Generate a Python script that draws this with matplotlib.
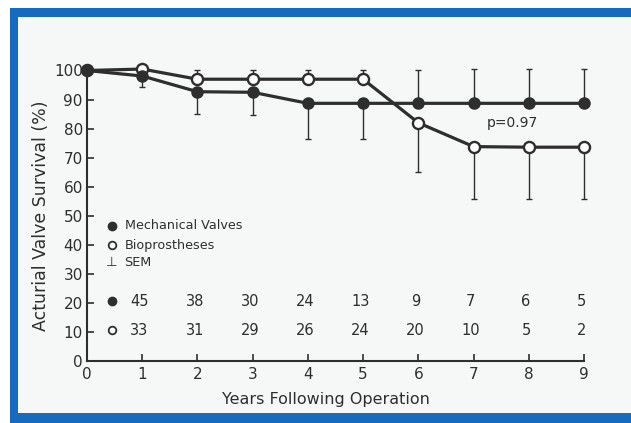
import numpy as np
import matplotlib.pyplot as plt
from matplotlib.patches import Rectangle

years = [0, 1, 2, 3, 4, 5, 6, 7, 8, 9]

# mechanical valves (filled)
mech = [100, 98.1, 92.7, 92.5, 88.7, 88.7, 88.7, 88.7, 88.7, 88.7]
mech_lo = [0, 3.9, 7.8, 7.8, 12.2, 12.2, 0, 0, 0, 0]
mech_hi = [0, 0, 0, 0, 0, 0, 11.6, 11.8, 11.8, 11.8]

# bioprostheses (open)
bio = [100, 100.5, 97.0, 97.0, 97.0, 97.0, 82.0, 73.8, 73.6, 73.6]
bio_lo = [0, 0, 0, 0, 0, 0, 16.8, 18.1, 17.9, 17.9]
bio_hi = [0, 0, 3.3, 3.1, 3.2, 3.3, 0, 0, 0, 0]

risk_years = [1, 2, 3, 4, 5, 6, 7, 8, 9]
mech_n = [45, 38, 30, 24, 13, 9, 7, 6, 5]
bio_n = [33, 31, 29, 26, 24, 20, 10, 5, 2]

ink = '#2e2e2e'
blue = '#176bbf'

fig = plt.figure(figsize=(6.31, 4.23), dpi=100)
fig.patch.set_facecolor('white')

# scanned page background and blue frame
fig.patches.append(Rectangle((0.016, 0.024), 0.984, 0.955, transform=fig.transFigure,
                             facecolor='#f6f8f8', edgecolor='none', zorder=-2))
fig.patches.append(Rectangle((0.016, 0.960), 0.984, 0.021, transform=fig.transFigure,
                             facecolor=blue, edgecolor='none', zorder=-1))
fig.patches.append(Rectangle((0.016, 0.0), 0.012, 0.981, transform=fig.transFigure,
                             facecolor=blue, edgecolor='none', zorder=-1))
fig.patches.append(Rectangle((0.016, 0.0), 0.984, 0.024, transform=fig.transFigure,
                             facecolor=blue, edgecolor='none', zorder=-1))

ax = fig.add_axes([87 / 631, 1 - 361 / 423, (584 - 87) / 631, (361 - 70.5) / 423])
ax.set_facecolor('none')

ax.errorbar(years, mech, yerr=[mech_lo, mech_hi], fmt='none', ecolor=ink,
            elinewidth=1.0, capsize=2.5, capthick=1.0, clip_on=False, zorder=2)
ax.errorbar(years, bio, yerr=[bio_lo, bio_hi], fmt='none', ecolor=ink,
            elinewidth=1.0, capsize=2.5, capthick=1.0, clip_on=False, zorder=2)

ax.plot(years, bio, color=ink, lw=2.3, marker='o', ms=8, mfc='white',
        mec=ink, mew=1.7, clip_on=False, zorder=3)
ax.plot(years, mech, color=ink, lw=2.3, marker='o', ms=8, mfc=ink,
        mec=ink, clip_on=False, zorder=4)

ax.set_xlim(0, 9)
ax.set_ylim(0, 100)
ax.set_xticks(range(0, 10))
ax.set_yticks(range(0, 101, 10))
ax.tick_params(direction='in', length=5, width=1.2, colors=ink, labelsize=11,
               labelcolor=ink)
ax.tick_params(axis='x', pad=4)
ax.tick_params(axis='y', pad=3)
for s in ['top', 'right']:
    ax.spines[s].set_visible(False)
for s in ['left', 'bottom']:
    ax.spines[s].set_color(ink)
    ax.spines[s].set_linewidth(1.5)

ax.set_xlabel('Years Following Operation', fontsize=11.5, color=ink, labelpad=6)
ax.xaxis.set_label_coords(0.48, -0.105)
ax.set_ylabel('Acturial Valve Survival (%)', fontsize=12.5, color=ink, labelpad=3)

# legend
ax.plot(0.45, 46.5, 'o', color=ink, ms=6, clip_on=False)
ax.text(0.68, 46.5, 'Mechanical Valves', fontsize=9.2, color=ink, va='center')
ax.plot(0.45, 39.8, 'o', mfc='white', mec=ink, mew=1.3, ms=5.5, clip_on=False)
ax.text(0.68, 39.8, 'Bioprostheses', fontsize=9.2, color=ink, va='center')
ax.text(0.45, 33.8, '\u22a5', fontsize=9.5, color=ink, va='center', ha='center')
ax.text(0.68, 33.8, 'SEM', fontsize=9.2, color=ink, va='center')

# number at risk
ax.plot(0.45, 20.5, 'o', color=ink, ms=6, clip_on=False)
ax.plot(0.45, 10.5, 'o', mfc='white', mec=ink, mew=1.3, ms=5.5, clip_on=False)
for x, m, b in zip(risk_years, mech_n, bio_n):
    ax.text(x - 0.05, 20.5, str(m), fontsize=10.5, color=ink, ha='center', va='center')
    ax.text(x - 0.05, 10.5, str(b), fontsize=10.5, color=ink, ha='center', va='center')

ax.text(7.7, 82, 'p=0.97', fontsize=10, color=ink, ha='center', va='center')

fig.savefig('out.png', dpi=100)
